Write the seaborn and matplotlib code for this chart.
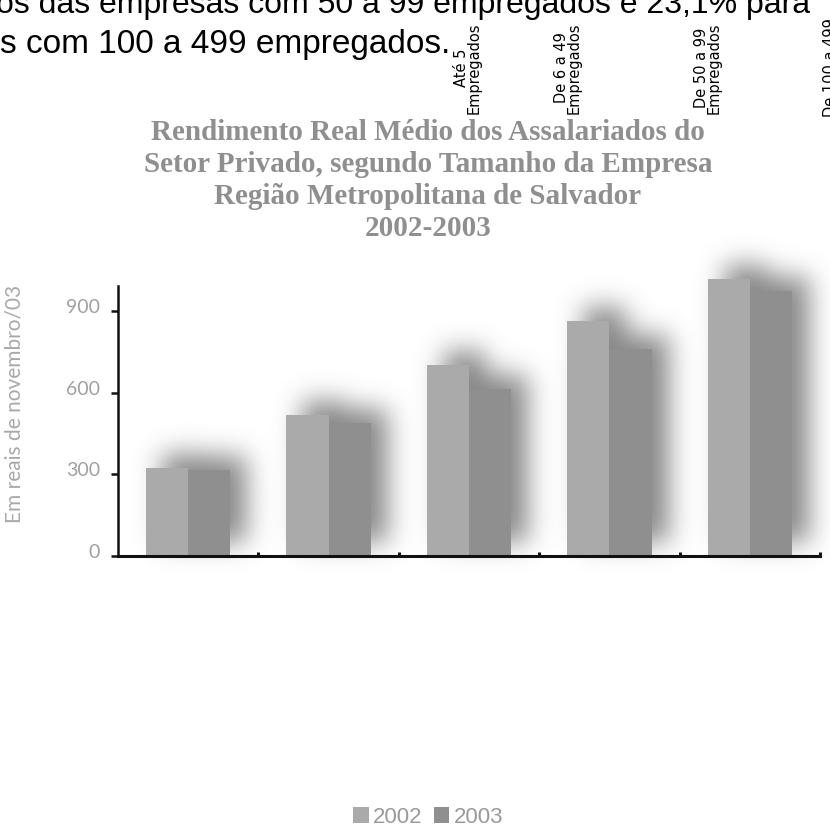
import numpy as np
import pandas as pd
import matplotlib
matplotlib.use("Agg")
import matplotlib.pyplot as plt
import matplotlib.transforms as mtransforms
from matplotlib.patches import Patch
import seaborn as sns

# --- dados ------------------------------------------------------------------
faixas = ["Até 5\nEmpregados", "De 6 a 49\nEmpregados", "De 50 a 99\nEmpregados",
          "De 100 a 499\nEmpregados", "500 ou mais\nEmpregados"]
anos = ["2002", "2003"]
rend_2002 = [322, 518, 702, 863, 1018]
rend_2003 = [317, 490, 613, 761, 973]
y_ticks = [0, 300, 600, 900]
titulo = ["Rendimento Real Médio dos Assalariados do",
          "Setor Privado, segundo Tamanho da Empresa",
          "Região Metropolitana de Salvador",
          "2002-2003"]
texto_topo = ["os das empresas com 50 a 99 empregados e 23,1% para",
              "s com 100 a 499 empregados."]
rotulo_y = "Em reais de novembro/03"

cores = ["#aaaaaa", "#8f8f8f"]

df = pd.DataFrame({
    "faixa": faixas * 2,
    "ano": [anos[0]] * len(faixas) + [anos[1]] * len(faixas),
    "valor": rend_2002 + rend_2003,
})

W, H = 830, 828
sns.set_style("white")
plt.rcParams["font.family"] = ["Liberation Sans", "DejaVu Sans"]


def fx(px):
    return px / W


def fy(py):
    return 1 - py / H


fig = plt.figure(figsize=(W / 100, H / 100), dpi=100)
fig.patch.set_facecolor("white")

# background layer that carries the soft drop shadow of the bars
bg = fig.add_axes([0, 0, 1, 1], zorder=0)
bg.set_axis_off()

ax = fig.add_axes([fx(118), fy(557), fx(820) - fx(118), fy(287) - fy(557)], zorder=2)
ax.patch.set_alpha(0)
sns.barplot(data=df, x="faixa", y="valor", hue="ano", palette=cores, width=0.6,
            saturation=1, legend=False, errorbar=None, ax=ax)
for p in ax.patches:
    p.set_clip_on(False)
    p.set_linewidth(0)

ax.set_xlim(-0.5, len(faixas) - 0.5)
ax.set_ylim(0, 993)
ax.set_yticks(y_ticks)
ax.set_xticks(np.arange(len(faixas)) + 0.5)
ax.set_xticklabels([])
ax.set_xlabel("")
ax.set_ylabel("")
sns.despine(ax=ax)
for s in ("left", "bottom"):
    ax.spines[s].set_color("#111111")
ax.spines["left"].set_linewidth(1.8)
ax.spines["bottom"].set_linewidth(2.2)
ax.tick_params(axis="y", left=True, direction="out", length=5, width=1.8,
               color="#111111", labelsize=14, labelcolor="#a0a0a0", pad=8)
ax.tick_params(axis="x", bottom=True, direction="in", length=3, width=2.2,
               color="#111111")
# tick labels sit slightly above their tick marks
lift = mtransforms.ScaledTranslation(0, 0.06, fig.dpi_scale_trans)
for lab in ax.get_yticklabels():
    lab.set_fontfamily(["Lato", "DejaVu Sans"])
    lab.set_transform(lab.get_transform() + lift)

# drop shadow computed from the drawn bars
fig.canvas.draw()
renderer = fig.canvas.get_renderer()
mask = np.zeros((H, W))
dx, dy = 16, 14
for p in ax.patches:
    bb = p.get_window_extent(renderer)
    x0 = int(round(bb.x0 + dx)); x1 = int(round(bb.x1 + dx))
    r0 = int(round(H - bb.y1 - dy)); r1 = int(round(H - bb.y0 - dy))
    x0, x1 = max(x0, 0), min(x1, W)
    r0, r1 = max(r0, 0), min(r1, H)
    mask[r0:r1, x0:x1] = 1.0


def gblur(a, s):
    k = np.arange(-int(3 * s), int(3 * s) + 1)
    g = np.exp(-k ** 2 / (2 * s * s))
    g /= g.sum()
    a = np.apply_along_axis(lambda v: np.convolve(v, g, mode="same"), 0, a)
    a = np.apply_along_axis(lambda v: np.convolve(v, g, mode="same"), 1, a)
    return a


soft = gblur(mask, 13)
rgba = np.zeros((H, W, 4))
rgba[..., :3] = 0.45
rgba[..., 3] = np.clip(0.85 * soft, 0, 1)
bg.imshow(rgba, extent=(0, W, 0, H), origin="upper", aspect="auto",
          interpolation="bilinear")
bg.set_xlim(0, W)
bg.set_ylim(0, H)

# body text running across the top
fig.text(fx(-4), fy(13), texto_topo[0], fontsize=23, color="black",
         ha="left", va="baseline", family=["Liberation Sans", "DejaVu Sans"])
fig.text(fx(0), fy(53), texto_topo[1], fontsize=24, color="black",
         ha="left", va="baseline", family=["Liberation Sans", "DejaVu Sans"])

# rotated category captions
for lbl, cx in zip(faixas[:4], [468, 568, 708, 837]):
    fig.text(fx(cx), fy(68), lbl, rotation=90, ha="center", va="center",
             multialignment="center", fontsize=10.5, linespacing=0.85,
             color="black", family=["DejaVu Sans"])

# title
for line, base in zip(titulo, [140, 172, 204, 236]):
    fig.text(fx(428), fy(base), line, ha="center", va="baseline",
             fontsize=21, fontweight="bold", color="#8f8f8f",
             family=["Liberation Serif", "DejaVu Serif"])

# y axis caption
fig.text(fx(15), fy(404), rotulo_y, rotation=90, ha="center", va="center",
         fontsize=15, color="#a8a8a8",
         family=["Lato", "DejaVu Sans"])

# legend
handles = [Patch(facecolor=c, edgecolor="none") for c in cores]
fig.legend(handles, anos, loc="center", bbox_to_anchor=(fx(428), fy(818)),
           ncol=2, frameon=False, handlelength=0.7, handleheight=0.7,
           handletextpad=0.2, columnspacing=0.5, borderpad=0,
           prop=dict(family="Liberation Sans", size=16), labelcolor="#9a9a9a")

fig.savefig("out.png", dpi=100, facecolor="white")
